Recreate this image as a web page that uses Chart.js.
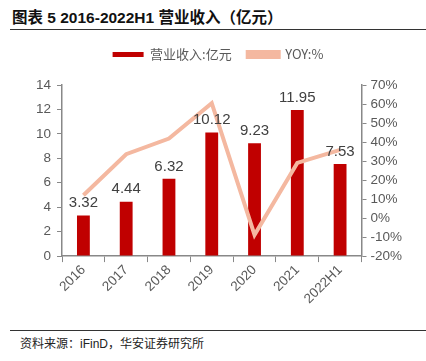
<!DOCTYPE html>
<html>
<head>
<meta charset="utf-8">
<script src="https://cdn.jsdelivr.net/npm/chart.js@4"></script>
<style>
  body { margin: 0; width: 426px; height: 361px; background: #fff; position: relative; overflow: hidden;
         font-family: "Liberation Sans", "Noto Sans CJK SC", sans-serif; }
  #title { position: absolute; left: 12px; top: 5px; font-size: 15.5px; font-weight: bold; color: #111; white-space: nowrap; }
  .rule { position: absolute; left: 10px; right: 0; height: 1px; background: #333; }
  #source { position: absolute; left: 20px; top: 334px; font-size: 12px; color: #222; white-space: nowrap; }
  #wrap { position: absolute; left: 0; top: 32px; width: 426px; height: 295px; }
</style>
</head>
<body>
<div id="title">图表 5 2016-2022H1 营业收入（亿元）</div>
<div class="rule" style="top:29px"></div>
<div id="wrap"><canvas id="chart"></canvas></div>
<div class="rule" style="top:330px"></div>
<div id="source">资料来源：iFinD，华安证券研究所</div>
<script>
// Data
const categories = ['2016', '2017', '2018', '2019', '2020', '2021', '2022H1'];
const revenue = [3.32, 4.44, 6.32, 10.12, 9.23, 11.95, 7.53];   // 亿元
const yoy = [12, 33.6, 41.8, 60.4, -8.8, 29, 35.9];              // %

const barColor = '#C00000';
const lineColor = '#F4B8A0';
const tickColor = '#595959';
const axisColor = '#888888';

// Draw the value labels above the bars
const barLabels = {
  id: 'barLabels',
  afterDatasetsDraw(chart) {
    const ctx = chart.ctx;
    const meta = chart.getDatasetMeta(1);
    ctx.save();
    ctx.font = '15px "Liberation Sans", sans-serif';
    ctx.fillStyle = '#404040';
    ctx.textAlign = 'center';
    ctx.textBaseline = 'bottom';
    meta.data.forEach((bar, i) => {
      ctx.fillText(revenue[i].toFixed(2), bar.x, bar.y - 5);
    });
    ctx.restore();
  }
};

// Extra room under the legend
const legendGap = {
  id: 'legendGap',
  beforeInit(chart) {
    const fit = chart.legend.fit;
    chart.legend.fit = function () {
      fit.bind(chart.legend)();
      this.height += 14;
    };
  }
};

const ctx = document.getElementById('chart').getContext('2d');
new Chart(ctx, {
  data: {
    labels: categories,
    datasets: [
      {
        type: 'line',
        label: 'YOY:%',
        data: yoy,
        yAxisID: 'y1',
        borderColor: lineColor,
        backgroundColor: lineColor,
        borderWidth: 4,
        pointRadius: 0,
        tension: 0,
        order: 0
      },
      {
        type: 'bar',
        label: '营业收入:亿元',
        data: revenue,
        yAxisID: 'y',
        backgroundColor: barColor,
        barPercentage: 0.3,
        categoryPercentage: 1,
        order: 1
      }
    ]
  },
  options: {
    responsive: true,
    maintainAspectRatio: false,
    animation: false,
    layout: { padding: { left: 30, right: 20, top: 0, bottom: 20 } },
    plugins: {
      legend: {
        position: 'top',
        reverse: true,
        labels: {
          boxWidth: 31,
          boxHeight: 5,
          color: '#595959',
          font: { size: 13, family: '"Noto Sans CJK SC", sans-serif' },
          padding: 16
        }
      },
      tooltip: { enabled: false }
    },
    scales: {
      x: {
        grid: { drawOnChartArea: false, color: axisColor, tickLength: 6, offset: true },
        border: { color: axisColor, width: 1.5 },
        ticks: { color: tickColor, font: { size: 13.5 }, maxRotation: 45, minRotation: 45, padding: 0 }
      },
      y: {
        position: 'left',
        min: 0,
        max: 14,
        grid: { drawOnChartArea: false, color: axisColor, tickLength: 5 },
        border: { color: axisColor, width: 1.5 },
        ticks: { stepSize: 2, color: tickColor, font: { size: 13.5 }, padding: 6, autoSkip: false }
      },
      y1: {
        position: 'right',
        min: -20,
        max: 70,
        grid: { drawOnChartArea: false, color: axisColor, tickLength: 5 },
        border: { color: axisColor, width: 1.5 },
        ticks: { stepSize: 10, color: tickColor, font: { size: 13.5 }, padding: 4, autoSkip: false,
                 callback: v => v + '%' }
      }
    }
  },
  plugins: [barLabels, legendGap]
});
</script>
</body>
</html>
